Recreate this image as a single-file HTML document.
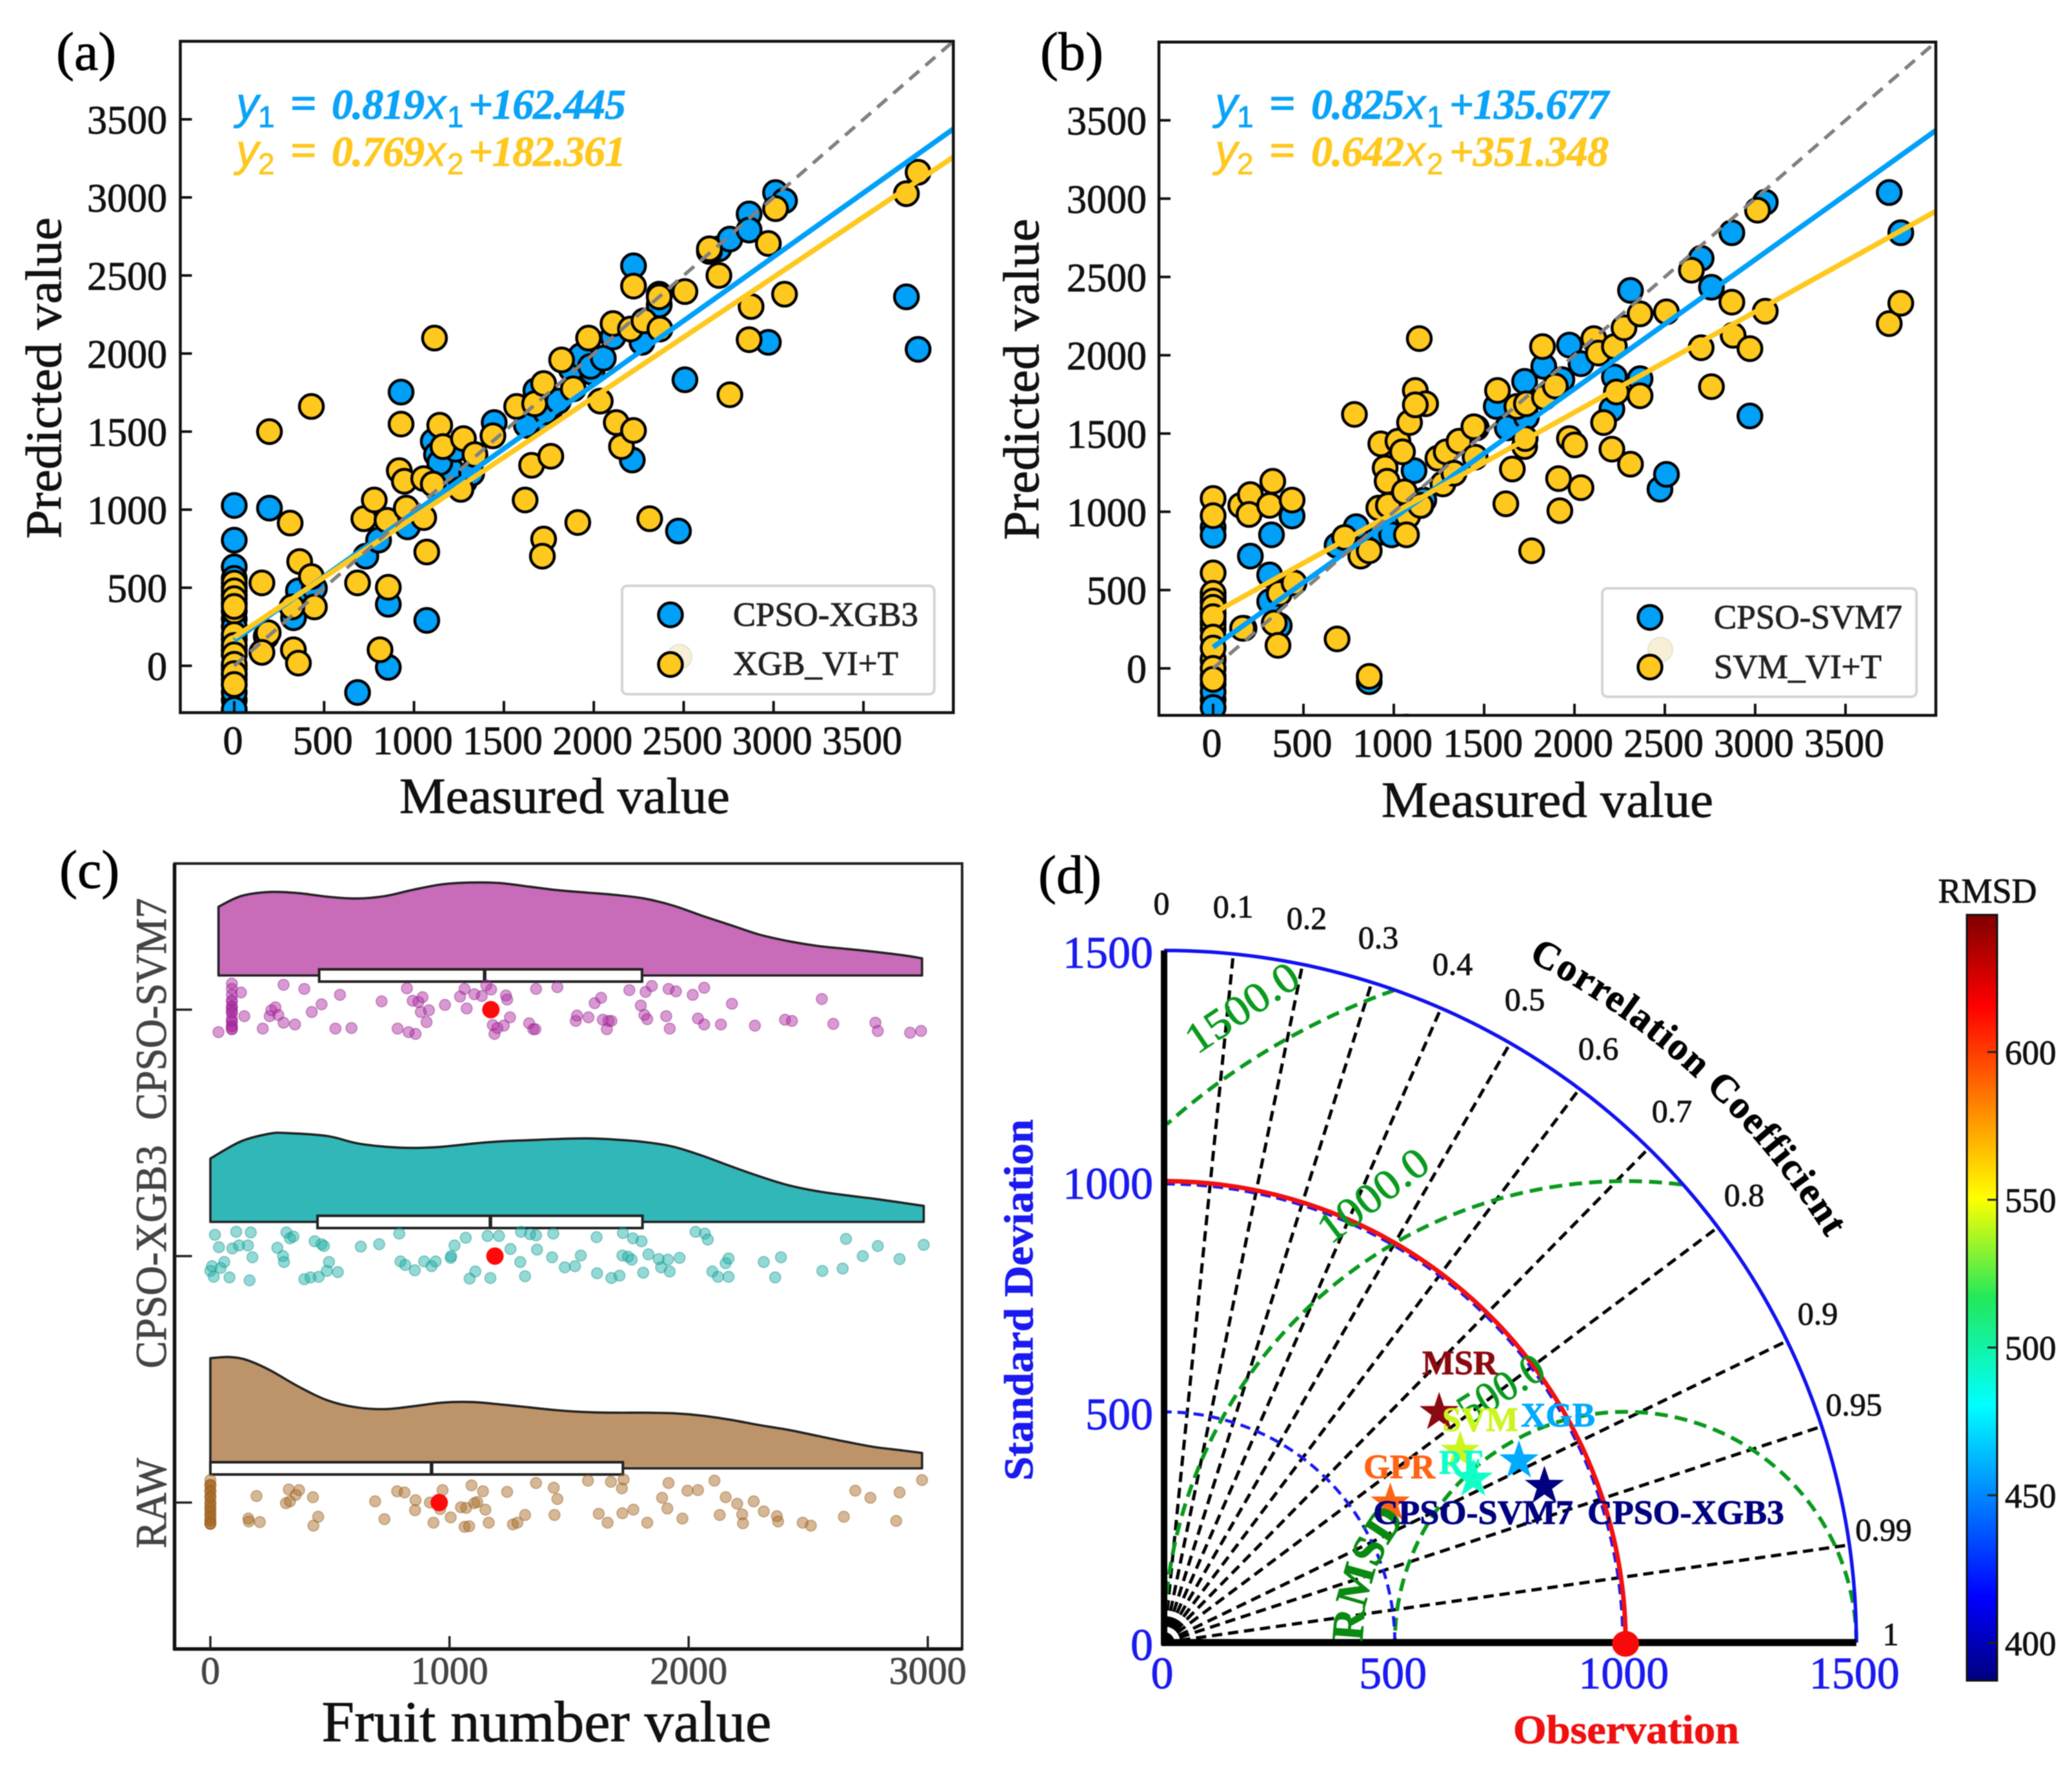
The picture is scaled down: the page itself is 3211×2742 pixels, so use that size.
<!DOCTYPE html>
<html lang="en">
<head>
<meta charset="utf-8">
<title>Model comparison figure</title>
<style>
html,body{margin:0;padding:0;background:#fff;}
svg{display:block;font-family:"Liberation Serif","DejaVu Serif",serif;filter:blur(0.7px);}
</style>
</head>
<body>
<svg id="fig" xmlns="http://www.w3.org/2000/svg" width="3211" height="2742" viewBox="0 0 3211 2742">
<defs>
<clipPath id="clipA"><rect x="279" y="63" width="1197" height="1041"/></clipPath>
<clipPath id="clipB"><rect x="1796" y="63" width="1204" height="1046"/></clipPath>
<linearGradient id="jet" x1="0" y1="1" x2="0" y2="0">
<stop offset="0" stop-color="#00007f"/><stop offset="0.11" stop-color="#0000ff"/><stop offset="0.36" stop-color="#00ffff"/><stop offset="0.5" stop-color="#22e85a"/><stop offset="0.63" stop-color="#ffff00"/><stop offset="0.88" stop-color="#ff0000"/><stop offset="1" stop-color="#7f0000"/>
</linearGradient>
<path id="corrArc" d="M 2368 1488 A 1190 1190 0 0 1 2850 1950"/>
<path id="rmsdArc" d="M 2112 2545 Q 2112 2440 2180 2352"/>
</defs>

<!-- panel a -->
<g id="panelA"></g>
<text x="87" y="108" font-size="84">(a)</text>
<g>
<g fill="#0aa3f7">
<text x="366" y="184" font-family="Liberation Sans" font-style="italic" font-size="70">y</text><text x="400" y="197" font-family="Liberation Sans" font-size="46">1</text><text x="450" y="184" font-size="72" font-weight="bold">=</text><text x="514" y="184" font-size="66" font-weight="bold" font-style="italic" textLength="144">0.819</text><text x="658" y="184" font-family="Liberation Sans" font-style="italic" font-size="66">x</text><text x="693" y="197" font-family="Liberation Sans" font-size="46">1</text><text x="726" y="184" font-size="66" font-weight="bold" font-style="italic" textLength="244">+162.445</text>
</g>
<g fill="#ffc81e">
<text x="366" y="257" font-family="Liberation Sans" font-style="italic" font-size="70">y</text><text x="400" y="270" font-family="Liberation Sans" font-size="46">2</text><text x="450" y="257" font-size="72" font-weight="bold">=</text><text x="514" y="257" font-size="66" font-weight="bold" font-style="italic" textLength="144">0.769</text><text x="658" y="257" font-family="Liberation Sans" font-style="italic" font-size="66">x</text><text x="693" y="270" font-family="Liberation Sans" font-size="46">2</text><text x="726" y="257" font-size="66" font-weight="bold" font-style="italic" textLength="244">+182.361</text>
</g>
</g>
<text x="875" y="1260" font-size="78" text-anchor="middle" textLength="512" lengthAdjust="spacingAndGlyphs" fill="#111">Measured value</text>
<text transform="translate(94 586) rotate(-90)" font-size="78" text-anchor="middle" textLength="498" lengthAdjust="spacingAndGlyphs" fill="#111">Predicted value</text>
<g>
<rect x="964" y="908" width="484" height="168" rx="8" fill="#fff" stroke="#d4d4d4" stroke-width="4"/>
<circle cx="1053" cy="1018" r="19" fill="#f7efd6" stroke="#e8e2d2" stroke-width="2"/>
<circle cx="1039" cy="953" r="18.5" fill="#00a0f8" stroke="#000" stroke-width="4.5"/>
<circle cx="1039" cy="1030" r="18.5" fill="#ffc81e" stroke="#000" stroke-width="4.5"/>
<text x="1136" y="970" font-size="53" fill="#222" textLength="287" lengthAdjust="spacingAndGlyphs">CPSO-XGB3</text>
<text x="1136" y="1046" font-size="53" fill="#222" textLength="256" lengthAdjust="spacingAndGlyphs">XGB_VI+T</text>
</g>

<!-- panel b -->
<g id="panelB"></g>
<text x="1612" y="108" font-size="84">(b)</text>
<g>
<g fill="#0aa3f7">
<text x="1883" y="184" font-family="Liberation Sans" font-style="italic" font-size="70">y</text><text x="1917" y="197" font-family="Liberation Sans" font-size="46">1</text><text x="1967" y="184" font-size="72" font-weight="bold">=</text><text x="2032" y="184" font-size="66" font-weight="bold" font-style="italic" textLength="144">0.825</text><text x="2176" y="184" font-family="Liberation Sans" font-style="italic" font-size="66">x</text><text x="2211" y="197" font-family="Liberation Sans" font-size="46">1</text><text x="2246" y="184" font-size="66" font-weight="bold" font-style="italic" textLength="247">+135.677</text>
</g>
<g fill="#ffc81e">
<text x="1883" y="257" font-family="Liberation Sans" font-style="italic" font-size="70">y</text><text x="1917" y="270" font-family="Liberation Sans" font-size="46">2</text><text x="1967" y="257" font-size="72" font-weight="bold">=</text><text x="2032" y="257" font-size="66" font-weight="bold" font-style="italic" textLength="144">0.642</text><text x="2176" y="257" font-family="Liberation Sans" font-style="italic" font-size="66">x</text><text x="2211" y="270" font-family="Liberation Sans" font-size="46">2</text><text x="2246" y="257" font-size="66" font-weight="bold" font-style="italic" textLength="247">+351.348</text>
</g>
</g>
<text x="2398" y="1266" font-size="78" text-anchor="middle" textLength="514" lengthAdjust="spacingAndGlyphs" fill="#111">Measured value</text>
<text transform="translate(1609 588) rotate(-90)" font-size="78" text-anchor="middle" textLength="498" lengthAdjust="spacingAndGlyphs" fill="#111">Predicted value</text>
<g>
<rect x="2483" y="912" width="487" height="168" rx="8" fill="#fff" stroke="#d4d4d4" stroke-width="4"/>
<circle cx="2573" cy="1007" r="19" fill="#f7efd6" stroke="#e8e2d2" stroke-width="2"/>
<circle cx="2557" cy="957" r="18.5" fill="#00a0f8" stroke="#000" stroke-width="4.5"/>
<circle cx="2557" cy="1034" r="18.5" fill="#ffc81e" stroke="#000" stroke-width="4.5"/>
<text x="2656" y="974" font-size="53" fill="#222" textLength="292" lengthAdjust="spacingAndGlyphs">CPSO-SVM7</text>
<text x="2656" y="1051" font-size="53" fill="#222" textLength="260" lengthAdjust="spacingAndGlyphs">SVM_VI+T</text>
</g>

<!-- panel c -->
<g id="panelC"></g>
<text x="92" y="1376" font-size="84">(c)</text>
<text transform="translate(257 1564) rotate(-90)" font-size="68" fill="#444" text-anchor="middle" textLength="344" lengthAdjust="spacingAndGlyphs">CPSO-SVM7</text>
<text transform="translate(257 1948) rotate(-90)" font-size="68" fill="#444" text-anchor="middle" textLength="346" lengthAdjust="spacingAndGlyphs">CPSO-XGB3</text>
<text transform="translate(257 2330) rotate(-90)" font-size="68" fill="#444" text-anchor="middle" textLength="140" lengthAdjust="spacingAndGlyphs">RAW</text>
<text x="847" y="2699" font-size="90" fill="#111" text-anchor="middle" textLength="697" lengthAdjust="spacingAndGlyphs">Fruit number value</text>

<!-- panel d -->
<g id="panelD"></g>
<text x="1609" y="1384" font-size="84">(d)</text>
<g font-size="50" fill="#111" text-anchor="middle">
<text x="1800" y="1417">0</text><text x="1911" y="1422">0.1</text><text x="2025" y="1440">0.2</text><text x="2136" y="1470">0.3</text><text x="2251" y="1511">0.4</text><text x="2363" y="1566">0.5</text><text x="2477" y="1642">0.6</text><text x="2591" y="1739">0.7</text><text x="2703" y="1869">0.8</text><text x="2817" y="2053">0.9</text><text x="2873" y="2194">0.95</text><text x="2919" y="2388">0.99</text><text x="2930" y="2550">1</text>
</g>
<text font-size="60" font-weight="bold" fill="#000"><textPath href="#corrArc" textLength="640" lengthAdjust="spacing">Correlation Coefficient</textPath></text>
<text font-size="70" font-weight="bold" fill="#0a8a10"><textPath href="#rmsdArc">RMSD</textPath></text>
<g fill="#0a9a1e" font-size="66" text-anchor="middle" dominant-baseline="central">
<text transform="translate(1925 1562) rotate(-34)" textLength="198" lengthAdjust="spacingAndGlyphs">1500.0</text>
<text transform="translate(2128 1853) rotate(-37)" textLength="198" lengthAdjust="spacingAndGlyphs">1000.0</text>
<text transform="translate(2326 2153) rotate(-32)" textLength="146" lengthAdjust="spacingAndGlyphs">500.0</text>
</g>
<g font-size="53" font-weight="bold">
<text x="2204" y="2130" fill="#8b0a0f" textLength="117" lengthAdjust="spacingAndGlyphs">MSR</text>
<text x="2235" y="2218" fill="#ccf51e" textLength="118" lengthAdjust="spacingAndGlyphs">SVM</text>
<text x="2357" y="2211" fill="#00aaff" textLength="115" lengthAdjust="spacingAndGlyphs">XGB</text>
<text x="2230" y="2284" fill="#10ffc8" textLength="69" lengthAdjust="spacingAndGlyphs">RF</text>
<text x="2113" y="2291" fill="#ff6414" textLength="111" lengthAdjust="spacingAndGlyphs">GPR</text>
<text x="2128" y="2362" fill="#000080" textLength="310" lengthAdjust="spacingAndGlyphs">CPSO-SVM7</text>
<text x="2460" y="2362" fill="#000080" textLength="305" lengthAdjust="spacingAndGlyphs">CPSO-XGB3</text>
</g>
<text x="2520" y="2702" font-size="62" font-weight="bold" fill="#f01010" text-anchor="middle" textLength="350" lengthAdjust="spacingAndGlyphs">Observation</text>
<text transform="translate(1600 2015) rotate(-90)" font-size="64" font-weight="bold" fill="#1a1af0" text-anchor="middle" textLength="560" lengthAdjust="spacingAndGlyphs">Standard Deviation</text>
<g>
<rect x="3048" y="1418" width="47" height="1187" fill="url(#jet)" stroke="#111" stroke-width="3"/>
<text x="3080" y="1399" font-size="54" fill="#111" text-anchor="middle">RMSD</text>
<g id="cbarTicks"></g>
</g>
</svg>

<script>
// Panel (a) measured/predicted values
const aBlueX=[0,0,0,0,1150,1280,1700,1760,1990,1210,0,0,0,0,0,0,0,0,0,0,0,0,0,0,196,178,330,357,446,732,803,857,857,686,1071,964,928,1107,1125,1143,1232,1321,1446,1625,1678,1732,1803,1875,1928,1982,2053,2107,2214,2221,2268,2364,2364,2507,2471,2696,2643,2757,2864,2864,2971,3011,3061,3739,3804];
const aBlueY=[-60,-120,-220,170,1200,1180,1580,1650,1880,1250,1027,805,634,560,500,450,400,350,300,250,100,0,-170,-280,1010,188,308,480,497,702,805,394,-10,-171,291,890,1753,1438,1353,1301,1387,1233,1558,1541,1763,1627,1695,1900,1986,1918,1970,2106,1318,2562,2072,2312,2380,1832,863,2671,2654,2733,2894,2791,2072,3031,2979,2363,2027];
const aYellowX=[0,0,0,0,0,0,0,0,0,0,0,0,0,0,0,0,0,0,154,196,189,154,311,364,429,429,446,321,329,357,686,721,779,811,850,857,918,928,946,957,1054,1071,1054,1107,1114,1143,1161,1261,1275,1339,1439,1571,1618,1654,1671,1721,1721,1714,1761,1821,1886,1911,1971,2036,2107,2125,2154,2204,2221,2221,2279,2311,2364,2368,2507,2643,2696,2757,2864,2875,2971,3011,3061,3739,3804];
const aYellowY=[505,455,400,350,170,100,-20,-90,530,480,430,380,200,130,70,10,-50,-120,531,1500,212,86,914,668,1661,572,377,377,103,17,531,942,1062,103,932,503,1250,1548,1182,1010,949,729,1199,1164,2099,1541,1404,1130,1455,1353,1473,1661,1062,1284,1678,1808,812,702,1342,1959,1774,918,2099,1695,2192,1558,1404,2157,1507,2432,2209,942,2363,2157,2397,2671,2500,1736,2089,2301,2705,2928,2380,3024,3161];
// Panel (b) measured/predicted values
const bBlueX=[0,0,0,0,0,0,1000,1150,1050,1680,0,0,0,0,0,0,0,0,0,206,323,313,313,437,366,171,686,792,864,935,988,1112,1166,1457,1567,1628,1734,1724,1830,1930,1972,2036,2107,2207,2221,2310,2363,2473,2509,2701,2758,2871,2971,3056,3742,3806,1070];
const bBlueY=[420,380,250,-50,-200,50,900,1040,950,1560,900,850,480,450,350,300,-100,-150,-250,717,853,597,427,973,273,256,785,905,-85,870,853,1263,1075,1536,1673,1536,1605,1833,1929,1844,2065,1946,2100,1656,1861,2414,1850,1144,1239,2619,2434,2782,1612,2977,3039,2782,-375];
const bYellowX=[0,0,0,0,0,0,0,0,0,0,0,0,0,0,0,153,206,199,163,330,313,437,366,448,338,359,686,728,782,817,864,864,928,952,963,917,970,1023,1048,1059,1077,1070,1087,1119,1176,1119,1141,1148,1244,1272,1290,1333,1361,1443,1450,1574,1620,1656,1681,1734,1724,1727,1763,1823,1834,1894,1912,1919,1972,2001,2036,2107,2132,2161,2207,2221,2232,2274,2310,2363,2363,2509,2647,2701,2758,2871,2878,2971,3013,3056,3742,3806];
const bYellowY=[460,350,280,60,1085,975,610,480,430,390,330,200,130,0,-70,1041,1110,983,256,1195,1041,1075,478,546,290,147,188,836,1622,717,751,-51,1434,1280,1195,1024,1041,1451,1383,1127,973,853,1570,1775,1690,1683,2106,1041,1342,1178,1383,1246,1451,1543,1349,1775,1051,1273,1673,1690,1417,1468,751,2055,1731,1803,1212,1007,1468,1427,1154,2106,2014,1570,1400,2055,1765,2175,1304,1741,2264,2277,2543,2048,1799,2339,2127,2042,2926,2281,2202,2332];
const aBlueFit=[0.819,162.445];
const aYellowFit=[0.769,182.361];
const bBlueFit=[0.825,135.677];
const bYellowFit=[0.642,351.348];
const scatterTicks=[0,500,1000,1500,2000,2500,3000,3500];

// Panel (c) density curves
const svmKdeX=[34,128,248,369,489,610,730,851,971,1092,1212,1333,1453,1573,1694,1814,1935,2055,2176,2296,2417,2537,2658,2778,2899,2976];
const svmKde=[116,134,141,139,133,130,134,145,154,157,156,150,144,140,136,130,118,101,85,69,58,50,45,40,34,29];
const xgbKdeX=[0,128,248,320,489,610,730,851,971,1092,1212,1333,1453,1573,1694,1814,1935,2055,2176,2296,2417,2537,2658,2778,2899,2983];
const xgbKde=[107,136,149,150,145,133,127,125,127,132,136,138,140,141,139,135,127,112,94,77,62,52,45,39,32,27];
const rawKdeX=[0,80,152,248,369,489,610,730,851,971,1092,1212,1333,1453,1573,1694,1814,1935,2055,2176,2296,2417,2537,2658,2778,2899,2976];
const rawKde=[186,188,183,166,138,115,103,100,105,111,112,108,103,98,95,94,94,93,89,82,73,65,55,45,36,30,26];
// Panel (c) box summaries: q1, median, q3, mean
const svmBox=[455,1147,1805,1173];
const xgbBox=[448,1171,1807,1190];
const rawBox=[0,925,1725,957];
// Panel (c) raw values and vertical jitter
const svmValues=[90,90,90,90,90,90,90,90,90,90,90,90,90,90,90,90,90,128,34,142,219,248,255,272,284,306,306,354,393,424,465,523,542,590,716,783,822,829,846,858,870,887,880,914,904,981,1044,1063,1072,1104,1135,1154,1174,1181,1188,1200,1227,1236,1241,1253,1333,1350,1359,1362,1451,1528,1533,1581,1607,1634,1641,1658,1665,1677,1752,1800,1815,1827,1820,1846,1906,1916,1921,1947,2017,2039,2065,2065,2135,2181,2277,2403,2432,2557,2605,2781,2791,2926,2972];
const svmJitter=[-5,5,20,28,33,-15,-44,-35,-25,-15,-5,0,5,15,20,28,33,-29,38,11,32,11,1,-4,9,-42,22,25,-35,4,-9,32,-25,31,-14,32,-36,38,-15,41,-13,-21,4,1,21,-8,-22,-35,-2,-26,-23,-41,-34,26,41,31,27,-24,-17,13,23,33,33,-35,-38,19,10,13,-11,-20,17,33,19,19,-33,-7,9,16,-30,-40,11,-35,32,-31,-25,15,-37,25,25,-10,27,17,19,-18,24,22,36,39,36];
const xgbValues=[19,36,0,7,14,43,58,80,92,108,120,157,169,176,164,280,304,308,318,333,347,393,419,436,453,465,475,487,496,533,629,706,790,795,815,855,894,925,942,1005,1007,1021,1068,1084,1108,1159,1171,1207,1255,1296,1299,1316,1337,1362,1366,1429,1434,1482,1525,1549,1615,1617,1677,1711,1723,1725,1747,1762,1767,1803,1810,1832,1875,1885,1913,1921,1962,2029,2068,2080,2099,2123,2155,2167,2167,2314,2362,2386,2559,2644,2658,2728,2791,2882,2983];
const xgbJitter=[-36,-15,25,17,35,20,10,36,-13,-41,-18,-18,-40,2,41,-14,0,10,-40,-30,-33,39,36,-25,35,-20,-17,25,10,27,-16,-20,-38,9,15,24,9,17,9,3,0,-18,-31,38,26,-34,37,-34,-12,10,-41,34,-37,-35,-11,2,-38,19,17,-1,-32,29,37,33,-1,-39,1,6,-30,-25,28,-3,5,19,6,26,3,-41,-38,-28,26,35,12,4,35,10,36,2,25,21,-29,0,-17,5,-19];
const rawValues=[0,0,0,0,0,0,0,0,0,0,0,0,0,0,0,0,0,0,0,0,0,0,0,0,159,161,193,207,316,328,333,357,371,429,431,451,689,728,781,812,858,856,918,933,971,961,1005,1048,1063,1082,1070,1092,1104,1116,1140,1150,1164,1241,1265,1284,1316,1362,1436,1451,1439,1579,1624,1661,1675,1721,1728,1723,1769,1827,1889,1911,1916,1974,1995,2039,2108,2130,2155,2203,2224,2227,2272,2314,2369,2374,2477,2511,2649,2697,2760,2868,2882,2976];
const rawJitter=[-30,-20,-10,0,10,20,30,36,-30,-20,-10,0,10,20,30,36,-38,-28,-18,-8,5,15,25,35,27,32,-11,33,1,-22,-2,-13,-21,-9,39,24,-2,28,-19,-17,-4,13,0,34,-21,11,25,8,41,40,9,-29,1,-1,-19,12,34,-18,37,34,21,-33,-25,-6,21,-37,19,34,-35,-24,-39,18,12,34,-8,10,-33,27,-20,-21,-37,21,-9,2,20,35,-2,15,23,32,34,39,24,-20,-8,31,-17,-38];
const raincloudTicks=[0,1000,2000,3000];

// Panel (d) Taylor diagram values
const correlationLines=[0.1,0.2,0.3,0.4,0.5,0.6,0.7,0.8,0.9,0.95,0.99];
const stdDevTicks=[0,500,1000,1500];
const rmsdLevels=[500,1000,1500];
const observationStd=[1000];
const modelNames=['MSR','SVM','GPR','RF','XGB','CPSO-XGB3'];
const modelStd=[777,764,576,758,864,891];
const modelCorr=[0.767,0.84,0.851,0.884,0.89,0.925];
const modelColors=['#8b0a0f','#ccf51e','#ff6414','#10ffc8','#00aaff','#000080'];
const colorbarTicks=[400,450,500,550,600];

const NS='http://www.w3.org/2000/svg';
function add(parent,tag,attrs,txt){
  const el=document.createElementNS(NS,tag);
  for(const k in attrs){el.setAttribute(k,attrs[k]);}
  if(txt!==undefined){el.textContent=txt;}
  parent.appendChild(el);
  return el;
}

function drawScatter(root,g){
  const sx=v=>g.x0+v*g.kx;
  const sy=v=>g.y0-v*g.ky;
  const frameL=sx(-300),frameR=sx(4000),frameT=sy(4000),frameB=sy(-300);
  const clip=add(root,'g',{'clip-path':'url(#'+g.clip+')'});
  
  
  g.series.forEach(s=>{
    const grp=add(clip,'g',{});
    
    
    s.xs.forEach((x,i)=>{
      const c=add(grp,'circle',{cx:sx(x),cy:sy(s.ys[i]),r:18.5,fill:s.color,stroke:'#000','stroke-width':4.5});
      
      
    });
  });
  g.series.forEach(s=>{
    const fit=add(clip,'line',{x1:sx(0),y1:sy(s.fit[1]),x2:sx(4000),y2:sy(s.fit[0]*4000+s.fit[1]),stroke:s.color,'stroke-width':8});
    
    
  });
  const diag=add(clip,'line',{x1:sx(0),y1:sy(0),x2:sx(4000),y2:sy(4000),stroke:'#808080','stroke-width':5.5,'stroke-dasharray':'20 13'});
  
  
  const frame=add(root,'rect',{x:frameL,y:frameT,width:frameR-frameL,height:frameB-frameT,fill:'none',stroke:'#111','stroke-width':4.5});
  
  
  scatterTicks.forEach(v=>{
    const tx=add(root,'line',{x1:sx(v),y1:frameB,x2:sx(v),y2:frameB-18,stroke:'#111','stroke-width':4});
    
    
    const ty=add(root,'line',{x1:frameL,y1:sy(v),x2:frameL+18,y2:sy(v),stroke:'#111','stroke-width':4});
    
    
    const lx=add(root,'text',{x:sx(v)-2,y:g.xLabelY,'font-size':62,'text-anchor':'middle',fill:'#111'},String(v));
    
    
    const ly=add(root,'text',{x:g.yLabelX,y:sy(v)+22,'font-size':62,'text-anchor':'end',fill:'#111'},String(v));
    
    
  });
}

drawScatter(document.getElementById('panelA'),{x0:363,kx:0.2786,y0:1032,ky:0.242,clip:'clipA',xLabelY:1169,yLabelX:259,
  series:[{name:'cpso-xgb3',xs:aBlueX,ys:aBlueY,fit:aBlueFit,color:'#00a0f8'},{name:'xgb-vi-t',xs:aYellowX,ys:aYellowY,fit:aYellowFit,color:'#ffc81e'}]});
drawScatter(document.getElementById('panelB'),{x0:1880,kx:0.28,y0:1036,ky:0.2427,clip:'clipB',xLabelY:1173,yLabelX:1777,
  series:[{name:'cpso-svm7',xs:bBlueX,ys:bBlueY,fit:bBlueFit,color:'#00a0f8'},{name:'svm-vi-t',xs:bYellowX,ys:bYellowY,fit:bYellowFit,color:'#ffc81e'}]});

// Smooth curve through points (Catmull-Rom to Bezier)
function smoothCurve(pts){
  let d='';
  for(let i=0;i<pts.length-1;i++){
    const p0=pts[Math.max(i-1,0)],p1=pts[i],p2=pts[i+1],p3=pts[Math.min(i+2,pts.length-1)];
    const c1x=p1[0]+(p2[0]-p0[0])/6,c1y=p1[1]+(p2[1]-p0[1])/6;
    const c2x=p2[0]-(p3[0]-p1[0])/6,c2y=p2[1]-(p3[1]-p1[1])/6;
    d+=' C'+c1x.toFixed(1)+' '+c1y.toFixed(1)+' '+c2x.toFixed(1)+' '+c2y.toFixed(1)+' '+p2[0].toFixed(1)+' '+p2[1].toFixed(1);
  }
  return d;
}

// Raincloud
(function(){
  const root=document.getElementById('panelC');
  const cx=v=>326+v*0.3706;
  const frameL=270.5,frameR=1491,frameT=1338.5,frameB=2556;
  const frame=add(root,'rect',{x:frameL,y:frameT,width:frameR-frameL,height:frameB-frameT,fill:'none',stroke:'#222','stroke-width':4});
  
  
  const axL=add(root,'line',{x1:frameL,y1:frameT,x2:frameL,y2:frameB+2,stroke:'#111','stroke-width':5.5});
  
  
  const axB=add(root,'line',{x1:frameL-2,y1:frameB,x2:frameR,y2:frameB,stroke:'#111','stroke-width':5.5});
  
  
  const cats=[
    {name:'cpso-svm7',kx:svmKdeX,kd:svmKde,box:svmBox,vals:svmValues,jit:svmJitter,base:1512,center:1565,fill:'#c86bb8',dot:'#b02ca4',edge:'#8a1f85'},
    {name:'cpso-xgb3',kx:xgbKdeX,kd:xgbKde,box:xgbBox,vals:xgbValues,jit:xgbJitter,base:1894,center:1947,fill:'#31b7b8',dot:'#1db0a8',edge:'#128f8a'},
    {name:'raw',kx:rawKdeX,kd:rawKde,box:rawBox,vals:rawValues,jit:rawJitter,base:2276,center:2329,fill:'#bd9469',dot:'#a96a24',edge:'#8f5a20'}
  ];
  cats.forEach(c=>{
    const pts=c.kx.map((x,i)=>[cx(x),c.base-c.kd[i]*0.918]);
    const last=c.kx[c.kx.length-1];
    const d='M'+cx(c.kx[0])+' '+c.base+' L'+pts[0][0]+' '+pts[0][1]+smoothCurve(pts)+' L'+cx(last)+' '+c.base+' Z';
    const v=add(root,'path',{d:d,fill:c.fill,stroke:'#222','stroke-width':3.6,'stroke-linejoin':'round'});
    
    
    const b=add(root,'rect',{x:cx(c.box[0]),y:c.base-9.5,width:cx(c.box[2])-cx(c.box[0]),height:19,fill:'#fff',stroke:'#222','stroke-width':4});
    
    
    const m=add(root,'line',{x1:cx(c.box[1]),y1:c.base-9.5,x2:cx(c.box[1]),y2:c.base+9.5,stroke:'#222','stroke-width':5.5});
    
    
    c.vals.forEach((val,i)=>{
      const p=add(root,'circle',{cx:cx(val),cy:c.center+c.jit[i]*0.918,r:8.5,fill:c.dot,'fill-opacity':0.48,stroke:c.edge,'stroke-opacity':0.5,'stroke-width':1.5});
      
      
    });
    const mean=add(root,'circle',{cx:cx(c.box[3]),cy:c.center,r:13.5,fill:'#ff0a0a'});
    
    
    const t=add(root,'line',{x1:frameL,y1:c.center,x2:frameL+27,y2:c.center,stroke:'#222','stroke-width':3.5});
    
    
  });
  raincloudTicks.forEach(v=>{
    const t=add(root,'line',{x1:cx(v),y1:frameB,x2:cx(v),y2:frameB-20,stroke:'#222','stroke-width':3.5});
    
    
    const l=add(root,'text',{x:cx(v),y:2610,'font-size':60,'text-anchor':'middle',fill:'#444'},String(v));
    
    
  });
})();

// Taylor diagram
(function(){
  const root=document.getElementById('panelD');
  const ox=1804,oy=2546,k=0.7152;
  const tx=x=>ox+x*k;
  const ty=y=>oy-y*k;
  const arc=r=>{
    let d='';
    for(let a=0;a<=90;a+=1){
      const t=a*Math.PI/180;
      d+=(a?' L':'M')+tx(r*Math.cos(t)).toFixed(1)+' '+ty(r*Math.sin(t)).toFixed(1);
    }
    return d;
  };
  correlationLines.forEach(c=>{
    const s=Math.sqrt(1-c*c);
    const l=add(root,'line',{x1:tx(0),y1:ty(0),x2:tx(1500*c),y2:ty(1500*s),stroke:'#000','stroke-width':5,'stroke-dasharray':'16 9'});
    
    
  });
  rmsdLevels.forEach(r=>{
    let d='';
    for(let a=0;a<=180;a+=0.5){
      const t=a*Math.PI/180;
      const x=observationStd[0]+r*Math.cos(t),y=r*Math.sin(t);
      if(x>=0&&Math.hypot(x,y)<=1501){
        d+=(d?' L':'M')+tx(x).toFixed(1)+' '+ty(y).toFixed(1);
      }
    }
    const p=add(root,'path',{d:d,fill:'none',stroke:'#0a9a1e','stroke-width':6,'stroke-dasharray':'20 11'});
    
    
  });
  [500,994].forEach(r=>{
    const p=add(root,'path',{d:arc(r),fill:'none',stroke:'#1a1af0','stroke-width':4.8,'stroke-dasharray':'16 9'});
    
    
  });
  const outer=add(root,'path',{d:arc(1500),fill:'none',stroke:'#1212f0','stroke-width':5.5});
  
  
  const obsArc=add(root,'path',{d:arc(observationStd[0]),fill:'none',stroke:'#f21010','stroke-width':7});
  
  
  const ay=add(root,'line',{x1:ox,y1:ty(1500),x2:ox,y2:oy+4,stroke:'#000','stroke-width':10});
  
  
  const ax=add(root,'line',{x1:ox-4,y1:oy,x2:tx(1500),y2:oy,stroke:'#000','stroke-width':11});
  
  
  stdDevTicks.forEach(v=>{
    const a=add(root,'text',{x:tx(v)-3,y:2617,'font-size':70,'text-anchor':'middle',fill:'#1a1af0'},String(v));
    
    
    const b=add(root,'text',{x:1787,y:ty(v)+27,'font-size':70,'text-anchor':'end',fill:'#1a1af0'},String(v));
    
    
  });
  const obs=add(root,'ellipse',{cx:tx(observationStd[0]),cy:oy+2,rx:21,ry:20,fill:'#f80a0a'});
  
  
  modelNames.forEach((n,i)=>{
    const s=modelStd[i],c=modelCorr[i];
    const px=tx(s*c),py=ty(s*Math.sqrt(1-c*c));
    let pts='';
    for(let j=0;j<10;j++){
      const r=j%2?12.5:32,t=(-90+j*36)*Math.PI/180;
      pts+=(px+r*Math.cos(t)).toFixed(1)+','+(py+r*Math.sin(t)).toFixed(1)+' ';
    }
    const st=add(root,'polygon',{points:pts,fill:modelColors[i]});
    
    
  });
  const cb=document.getElementById('cbarTicks');
  colorbarTicks.forEach(v=>{
    const y=2546.7-(v-400)*4.58;
    const t=add(cb,'line',{x1:3080,y1:y,x2:3095,y2:y,stroke:'#222','stroke-width':3});
    
    
    const l=add(cb,'text',{x:3107,y:y+19,'font-size':53,fill:'#111'},String(v));
    
    
  });
})();

// Slightly heavier glyphs, as in the reference
document.querySelectorAll('#fig text').forEach(t=>{
  t.setAttribute('stroke',getComputedStyle(t).fill);
  t.setAttribute('stroke-width','0.9');
});
</script>
</body>
</html>
